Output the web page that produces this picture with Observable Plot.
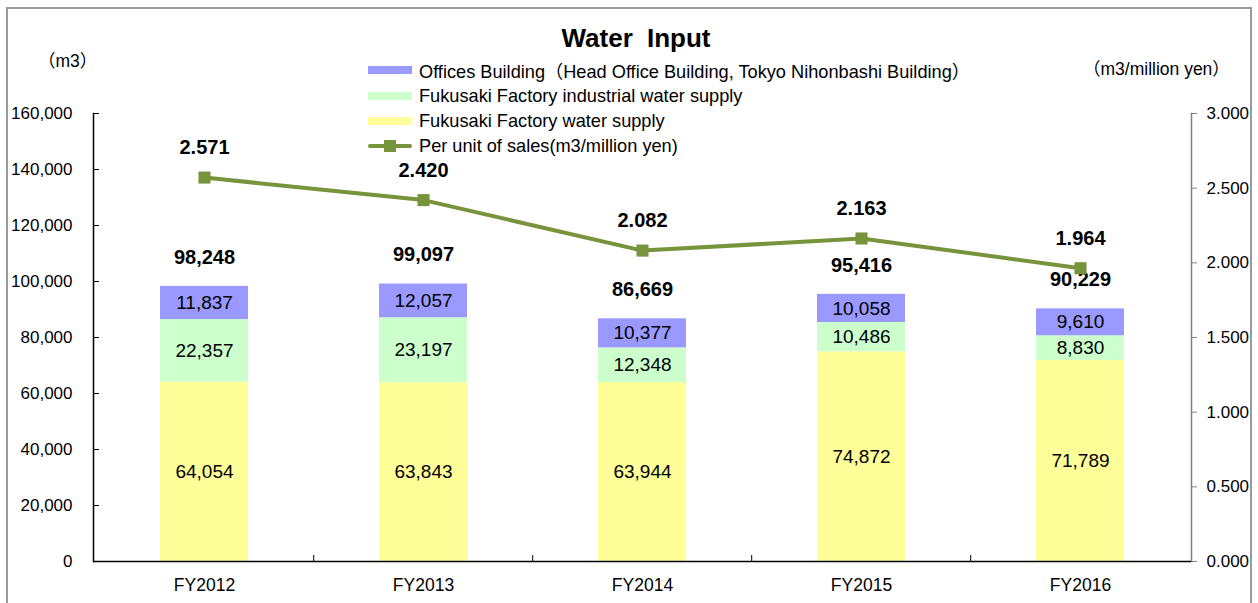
<!DOCTYPE html>
<html>
<head>
<meta charset="utf-8">
<script src="https://cdn.jsdelivr.net/npm/d3@7"></script>
<script src="https://cdn.jsdelivr.net/npm/@observablehq/plot@0.6"></script>
<style>
  body { margin: 0; background: #fff; }
  #wrap { position: relative; width: 1258px; height: 603px; overflow: hidden;
          font-family: "Liberation Sans", Arial, "Noto Sans CJK JP", sans-serif; color: #000; }
  #border { position: absolute; left: 6px; top: 7px; width: 1246px; height: 640px;
            border: 2px solid #9a9a9a; box-sizing: border-box; }
  #chart { position: absolute; left: 0; top: 0; }
  .abs { position: absolute; white-space: nowrap; line-height: 1; }
  #title { left: 0; width: 1272px; text-align: center; top: 25px; font-size: 26px; font-weight: bold; word-spacing: 7px; }
  #unitL { left: 38px; top: 53px; font-size: 17.5px; }
  #unitR { left: 1083px; top: 61px; font-size: 17.5px; }
  .leg { position: absolute; left: 368px; height: 20px; display: flex; align-items: center; font-size: 18.2px; white-space: nowrap; }
  .sw { width: 44px; height: 8px; margin-right: 7px; }
  .lsw { width: 44px; height: 12px; margin-right: 7px; position: relative; }
  .lsw .ln { position: absolute; left: 0; top: 4px; width: 44px; height: 4px; background: #77933C; border-radius: 2px; }
  .lsw .mk { position: absolute; left: 16px; top: 0; width: 12px; height: 12px; background: #77933C; }
</style>
</head>
<body>
<div id="wrap">
  <div id="chart"></div>
  <div id="border"></div>
  <div class="abs" id="title">Water Input</div>
  <div class="abs" id="unitL">（m3）</div>
  <div class="abs" id="unitR">（m3/million yen）</div>
  <div id="legend"></div>
</div>
<script>
// ---- data ----
const categories = ["FY2012", "FY2013", "FY2014", "FY2015", "FY2016"];
const seriesNames = [
  "Fukusaki Factory water supply",
  "Fukusaki Factory industrial water supply",
  "Offices Building（Head Office Building, Tokyo Nihonbashi Building）"
];
const waterSupply = [64054, 63843, 63944, 74872, 71789];
const industrialWater = [22357, 23197, 12348, 10486, 8830];
const officesBuilding = [11837, 12057, 10377, 10058, 9610];
const totals = [98248, 99097, 86669, 95416, 90229];
const perUnitSales = [2.571, 2.420, 2.082, 2.163, 1.964];
const lineName = "Per unit of sales(m3/million yen)";
const leftTicks = [0, 20000, 40000, 60000, 80000, 100000, 120000, 140000, 160000];
const rightTicks = [0, 0.5, 1.0, 1.5, 2.0, 2.5, 3.0];
const leftMax = 160000, rightMax = 3;
const colors = ["#FFFF99", "#CCFFCC", "#9999FF"];
const lineColor = "#77933C";

// ---- tables ----
const seriesValues = [waterSupply, industrialWater, officesBuilding];
const stacked = [];
seriesNames.forEach((s, si) => categories.forEach((c, ci) => stacked.push({cat: c, series: s, value: seriesValues[si][ci]})));
const totalRows = categories.map((c, i) => ({cat: c, total: totals[i]}));
const K = leftMax / rightMax;
const lineRows = categories.map((c, i) => ({cat: c, r: perUnitSales[i]}));

const W = 1258, H = 603, ML = 93, MR = 67, MT = 113, MB = 42;
const step = (W - ML - MR) / categories.length;
const fmt = d3.format(",");

const chart = Plot.plot({
  width: W, height: H,
  marginLeft: ML, marginRight: MR, marginTop: MT, marginBottom: MB,
  style: {fontFamily: '"Liberation Sans", Arial, sans-serif', fontSize: "17px", color: "#000", background: "transparent"},
  x: {domain: categories, paddingInner: 0.6, paddingOuter: 0.3, label: null},
  y: {domain: [0, leftMax], label: null},
  color: {domain: seriesNames, range: colors},
  marks: [
    Plot.barY(stacked, {x: "cat", y: "value", fill: "series"}),
    Plot.text(stacked, Plot.stackY({x: "cat", y: "value", z: "series", text: d => fmt(d.value), fontSize: 19, fill: "#000"})),
    Plot.text(totalRows, {x: "cat", y: "total", text: d => fmt(d.total), dy: -29, fontWeight: "bold", fontSize: 20, fill: "#000"}),
    Plot.line(lineRows, {x: "cat", y: d => d.r * K, stroke: lineColor, strokeWidth: 4}),
    Plot.dot(lineRows, {x: "cat", y: d => d.r * K, symbol: "square", r: 6.8, fill: lineColor, stroke: "none"}),
    Plot.text(lineRows, {x: "cat", y: d => d.r * K, text: d => d.r.toFixed(3), dy: -30, fontWeight: "bold", fontSize: 20, fill: "#000"}),
    // axes
    Plot.frame({anchor: "left", stroke: "#000", strokeWidth: 1.5}),
    Plot.frame({anchor: "right", stroke: "#808080", strokeWidth: 1.5}),
    Plot.ruleY([0], {stroke: "#000", strokeWidth: 1.5}),
    Plot.axisY({anchor: "left", ticks: leftTicks, tickFormat: d => fmt(d), tickSize: -6, tickPadding: 27, stroke: "#000", fontSize: 17, label: null}),
    Plot.axisY({anchor: "right", ticks: rightTicks.map(v => v * K), tickFormat: d => (d / K).toFixed(3), tickSize: 5, tickPadding: 10, stroke: "#808080", fill: "#000", fontSize: 17, label: null}),
    Plot.axisX({anchor: "bottom", tickSize: 0, tickPadding: 17, fontSize: 17.5, label: null}),
    Plot.axisX({anchor: "bottom", ticks: categories.slice(1), tickFormat: () => "", tickSize: -6, dx: -step / 2, stroke: "#000", label: null})
  ]
});
document.getElementById("chart").appendChild(chart);

// ---- legend ----
const legend = document.getElementById("legend");
const legendItems = [
  {label: "Offices Building（Head Office Building, Tokyo Nihonbashi Building）", color: colors[2]},
  {label: "Fukusaki Factory industrial water supply", color: colors[1]},
  {label: "Fukusaki Factory water supply", color: colors[0]},
  {label: lineName, line: true}
];
const legendTops = [60, 86, 111, 136];
legendItems.forEach((it, i) => {
  const row = document.createElement("div");
  row.className = "leg";
  row.style.top = legendTops[i] + "px";
  if (it.line) {
    row.innerHTML = '<div class="lsw"><div class="ln"></div><div class="mk"></div></div>';
  } else {
    row.innerHTML = '<div class="sw" style="background:' + it.color + '"></div>';
  }
  const t = document.createElement("span");
  t.textContent = it.label;
  row.appendChild(t);
  legend.appendChild(row);
});
</script>
</body>
</html>
